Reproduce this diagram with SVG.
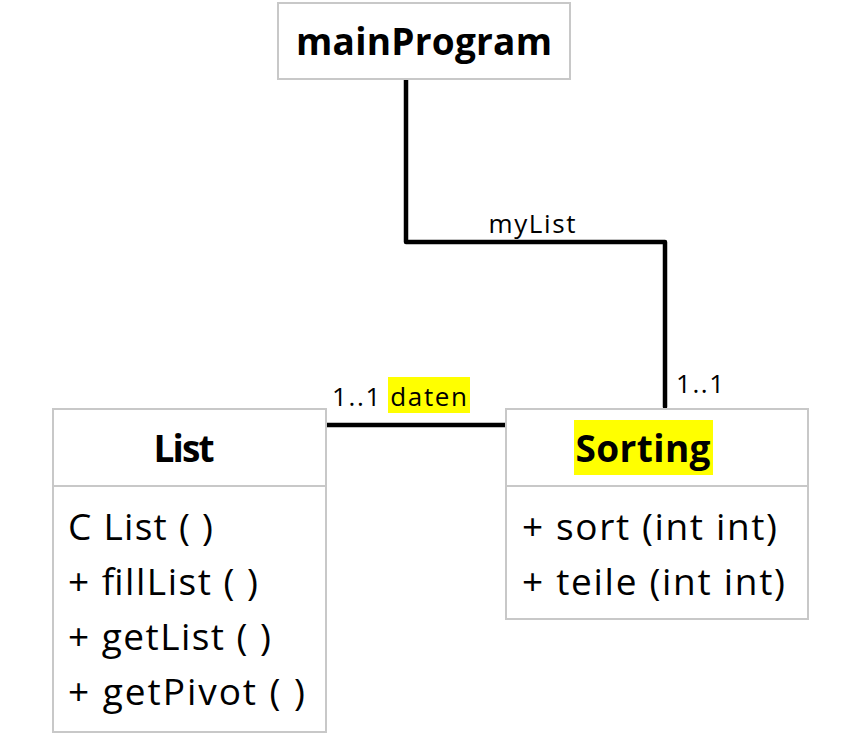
<svg xmlns="http://www.w3.org/2000/svg" width="852" height="755" viewBox="0 0 852 755">
<style>
.box{fill:#fff;stroke:#c8c8c8;stroke-width:2}
.div{stroke:#c8c8c8;stroke-width:2}
.t{font-family:"Open Sans","Liberation Sans",sans-serif;fill:#000}
.b{font-weight:bold}
.m{font-size:37px}
.s{font-size:26px}
.conn{fill:none;stroke:#000;stroke-width:4.5;stroke-linejoin:round;stroke-linecap:round}
.hl{fill:#ffff00}
</style>
<rect width="852" height="755" fill="#fff"/>
<g id="connectors">
<polyline class="conn" points="406,80 406,242 665,242 665,407"/>
<line class="conn" x1="327" y1="425" x2="505" y2="425"/>
<text class="t s" x="532" y="233" text-anchor="middle" textLength="87" lengthAdjust="spacing">myList</text>
<text class="t s" x="676" y="393" textLength="48" lengthAdjust="spacing">1..1</text>
<rect class="hl" x="388" y="377" width="82" height="36"/>
<text class="t s" x="332" y="406" textLength="135" lengthAdjust="spacing">1..1 daten</text>
</g>
<g id="mainProgram">
<rect class="box" x="278" y="3" width="292" height="76"/>
<text class="t b m" x="424" y="55" text-anchor="middle" textLength="256" lengthAdjust="spacing">mainProgram</text>
</g>
<g id="List">
<rect class="box" x="53" y="409" width="273" height="323"/>
<line class="div" x1="53" y1="486" x2="326" y2="486"/>
<text class="t b m" x="184" y="462" text-anchor="middle" textLength="61" lengthAdjust="spacing">List</text>
<text class="t m" x="68" y="540" textLength="145" lengthAdjust="spacing">C List ( )</text>
<text class="t m" x="68" y="595" textLength="190" lengthAdjust="spacing">+ fillList ( )</text>
<text class="t m" x="68" y="650" textLength="203" lengthAdjust="spacing">+ getList ( )</text>
<text class="t m" x="68" y="705" textLength="237" lengthAdjust="spacing">+ getPivot ( )</text>
</g>
<g id="Sorting">
<rect class="box" x="506" y="409" width="302" height="210"/>
<line class="div" x1="506" y1="486" x2="808" y2="486"/>
<rect class="hl" x="574" y="420" width="139" height="55"/>
<text class="t b m" x="643" y="462" text-anchor="middle" textLength="135" lengthAdjust="spacing">Sorting</text>
<text class="t m" x="522" y="540" textLength="255" lengthAdjust="spacing">+ sort (int int)</text>
<text class="t m" x="522" y="595" textLength="263" lengthAdjust="spacing">+ teile (int int)</text>
</g>
</svg>
